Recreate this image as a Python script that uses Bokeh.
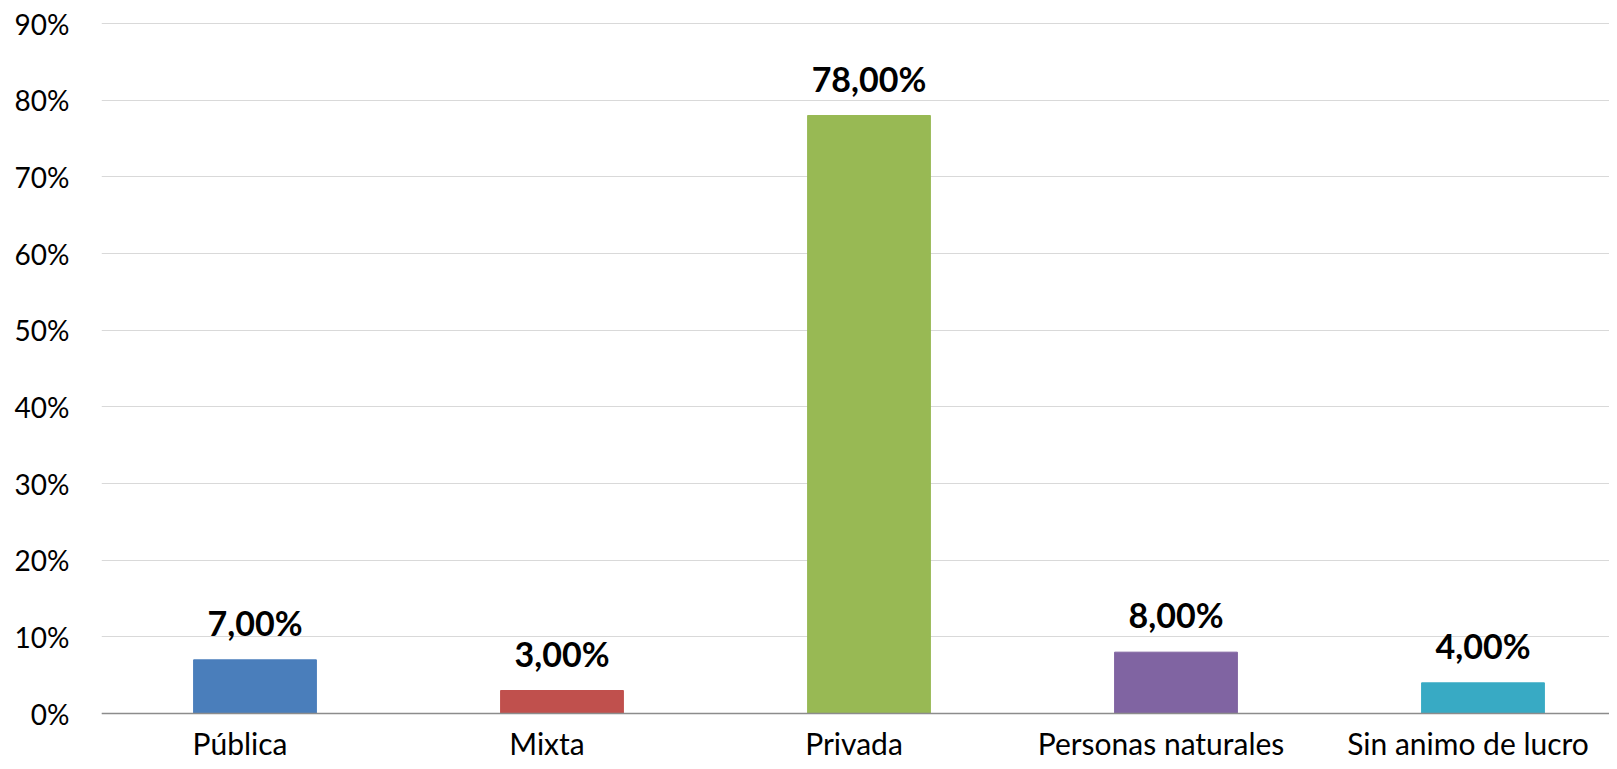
from bokeh.plotting import figure
from bokeh.models import ColumnDataSource, FixedTicker, PrintfTickFormatter, Range1d, Span
from bokeh.core.properties import value
from bokeh.embed import file_html
from bokeh.resources import INLINE

categories = ["Pública", "Mixta", "Privada", "Personas naturales", "Sin animo de lucro"]
values = [7.0, 3.0, 78.0, 8.0, 4.0]
colors = ["#4A7EBB", "#C0504D", "#98B954", "#8064A2", "#38AAC4"]
y_ticks = [0, 10, 20, 30, 40, 50, 60, 70, 80, 90]

labels = [("%.2f%%" % v).replace(".", ",") for v in values]
pos = list(range(len(categories)))
src = ColumnDataSource(dict(x=pos, cat=categories, val=values, col=colors, lab=labels))

# layout (pixels)
W, H = 1609, 761
left_b, top_b = 101, 21
frame_w = W - left_b
frame_h = H - top_b
cat_px = 307.0
px_per_unit = 690.0 / 90.0
pad_top = 2.0 / px_per_unit

x_rng = Range1d(-0.5, -0.5 + frame_w / cat_px)
y_rng = Range1d(90 + pad_top - frame_h / px_per_unit, 90 + pad_top)

FONT = "Lato"
p = figure(x_range=x_rng, y_range=y_rng, width=W, height=H,
           output_backend="svg", toolbar_location=None,
           min_border_left=left_b, min_border_right=0, min_border_top=top_b, min_border_bottom=0)
p.outline_line_color = None
p.background_fill_color = "white"
p.xaxis.visible = False

p.vbar(x="x", top="val", width=0.40, color="col", source=src)
p.add_layout(Span(location=0, dimension="width", line_color="#8C8C8C", line_width=1.5))

p.text(x="x", y="val", text="lab", source=src, text_align="center", text_baseline="bottom",
       y_offset=-17, text_font=value(FONT), text_font_style="bold", text_font_size="34px",
       text_color="black")
p.text(x="x", y=0, text="cat", source=src, text_align="center", text_baseline="bottom",
       x_offset=-15, y_offset=47, text_font=value(FONT), text_font_size="30px",
       text_color="black")

p.yaxis.ticker = FixedTicker(ticks=y_ticks)
p.yaxis.formatter = PrintfTickFormatter(format="%d%%")
p.yaxis.axis_line_color = None
p.yaxis.major_tick_line_color = None
p.yaxis.minor_tick_line_color = None
p.yaxis.major_tick_out = 0
p.yaxis.major_tick_in = 0
p.yaxis.major_label_text_font = FONT
p.yaxis.major_label_text_font_size = "28px"
p.yaxis.major_label_text_color = "black"
p.yaxis.major_label_standoff = 32

p.xgrid.grid_line_color = None
p.ygrid.grid_line_color = "#D9D9D9"
p.ygrid.grid_line_width = 1

open("out.html", "w").write(file_html(p, INLINE))
